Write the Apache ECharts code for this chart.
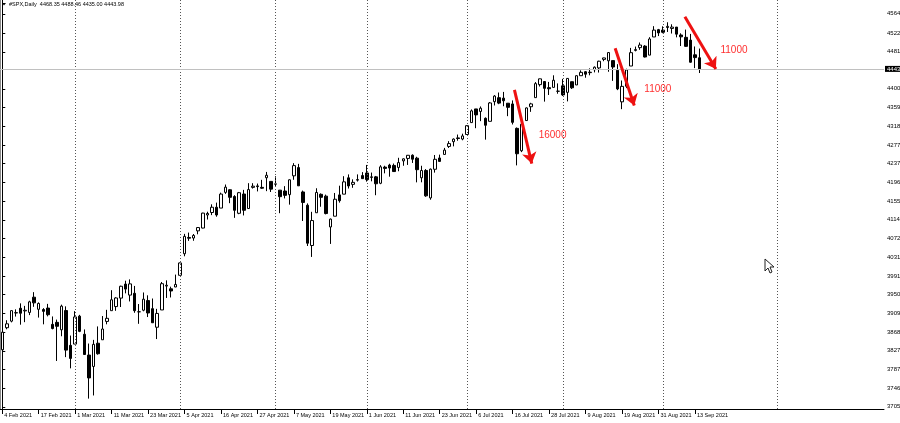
<!DOCTYPE html>
<html><head><meta charset="utf-8">
<script src="https://cdn.jsdelivr.net/npm/echarts@6/dist/echarts.min.js"></script>
<style>html,body{margin:0;padding:0;background:#fff}#c{width:900px;height:423px}</style>
</head><body><div id="c"></div>
<script>
// ---- data ----
const dates = [
'2021-02-04','2021-02-05','2021-02-08','2021-02-09','2021-02-10','2021-02-11','2021-02-12','2021-02-16','2021-02-17','2021-02-18','2021-02-19','2021-02-22','2021-02-23','2021-02-24','2021-02-25','2021-02-26',
'2021-03-01','2021-03-02','2021-03-03','2021-03-04','2021-03-05','2021-03-08','2021-03-09','2021-03-10','2021-03-11','2021-03-12','2021-03-15','2021-03-16','2021-03-17','2021-03-18','2021-03-19','2021-03-22','2021-03-23','2021-03-24','2021-03-25','2021-03-26','2021-03-29','2021-03-30','2021-03-31',
'2021-04-01','2021-04-05','2021-04-06','2021-04-07','2021-04-08','2021-04-09','2021-04-12','2021-04-13','2021-04-14','2021-04-15','2021-04-16','2021-04-19','2021-04-20','2021-04-21','2021-04-22','2021-04-23','2021-04-26','2021-04-27','2021-04-28','2021-04-29','2021-04-30',
'2021-05-03','2021-05-04','2021-05-05','2021-05-06','2021-05-07','2021-05-10','2021-05-11','2021-05-12','2021-05-13','2021-05-14','2021-05-17','2021-05-18','2021-05-19','2021-05-20','2021-05-21','2021-05-24','2021-05-25','2021-05-26','2021-05-27','2021-05-28',
'2021-06-01','2021-06-02','2021-06-03','2021-06-04','2021-06-07','2021-06-08','2021-06-09','2021-06-10','2021-06-11','2021-06-14','2021-06-15','2021-06-16','2021-06-17','2021-06-18','2021-06-21','2021-06-22','2021-06-23','2021-06-24','2021-06-25','2021-06-28','2021-06-29','2021-06-30',
'2021-07-01','2021-07-02','2021-07-06','2021-07-07','2021-07-08','2021-07-09','2021-07-12','2021-07-13','2021-07-14','2021-07-15','2021-07-16','2021-07-19','2021-07-20','2021-07-21','2021-07-22','2021-07-23','2021-07-26','2021-07-27','2021-07-28','2021-07-29','2021-07-30',
'2021-08-02','2021-08-03','2021-08-04','2021-08-05','2021-08-06','2021-08-09','2021-08-10','2021-08-11','2021-08-12','2021-08-13','2021-08-16','2021-08-17','2021-08-18','2021-08-19','2021-08-20','2021-08-23','2021-08-24','2021-08-25','2021-08-26','2021-08-27','2021-08-30','2021-08-31',
'2021-09-01','2021-09-02','2021-09-03','2021-09-07','2021-09-08','2021-09-09','2021-09-10','2021-09-13','2021-09-14'
];
const openP = [
3830.0,3878.3,3892.6,3910.5,3920.8,3915.0,3911.7,3945.0,3918.5,3918.0,3921.2,3885.6,3890.0,3873.7,3915.8,3839.7,
3842.5,3903.6,3864.0,3818.5,3793.6,3844.4,3851.9,3892.0,3915.5,3924.5,3943.0,3973.6,3949.6,3953.5,3913.1,3916.5,3937.6,3919.9,3879.3,3917.1,3969.3,3963.3,3967.3,
3992.8,4040.0,4075.6,4074.3,4090.0,4096.1,4124.7,4130.1,4141.6,4139.8,4174.1,4179.8,4165.0,4128.4,4170.5,4138.8,4185.0,4188.3,4185.1,4206.1,4198.1,
4192.0,4179.0,4177.1,4169.1,4210.3,4228.3,4175.0,4146.0,4058.0,4129.6,4169.9,4165.9,4098.5,4122.0,4168.6,4170.2,4205.9,4191.6,4201.9,4210.8,
4216.5,4206.8,4208.0,4194.0,4229.3,4233.8,4233.0,4228.6,4242.9,4248.3,4255.3,4248.9,4206.0,4222.0,4162.0,4224.6,4249.3,4257.0,4274.5,4284.9,4293.2,4290.7,
4300.7,4326.6,4356.5,4351.0,4336.0,4329.4,4372.4,4381.1,4380.1,4369.0,4367.4,4314.0,4265.1,4331.1,4361.3,4381.2,4409.6,4416.4,4403.0,4403.6,4395.1,
4406.9,4392.7,4416.0,4408.9,4429.1,4437.8,4435.8,4442.2,4446.1,4464.8,4461.7,4462.1,4440.9,4372.0,4406.0,4450.3,4484.4,4490.5,4493.8,4474.1,4513.8,4529.8,
4528.8,4534.5,4532.4,4535.4,4518.1,4513.0,4506.9,4474.8,4468.35
];
const highP = [
3872.4,3894.6,3915.8,3918.4,3931.5,3926.0,3937.2,3956.0,3933.6,3921.1,3930.4,3902.9,3896.0,3928.7,3925.0,3861.1,
3914.5,3906.4,3874.5,3843.7,3851.7,3881.1,3903.8,3917.4,3960.3,3945.0,3970.1,3981.0,3983.9,3969.6,3930.1,3955.3,3949.1,3942.1,3919.5,3978.2,3981.8,3968.0,3994.4,
4020.6,4083.4,4086.2,4083.1,4098.2,4129.5,4131.8,4148.0,4151.7,4173.5,4191.3,4180.8,4168.0,4175.0,4179.6,4194.2,4194.2,4193.4,4201.5,4218.8,4198.1,
4209.4,4179.0,4187.7,4202.7,4238.0,4236.4,4178.0,4150.0,4131.6,4183.1,4171.9,4169.2,4116.9,4172.8,4188.7,4209.5,4213.4,4202.6,4213.4,4218.4,
4234.1,4217.4,4210.0,4233.5,4232.3,4236.7,4237.1,4249.7,4248.4,4255.6,4257.2,4251.9,4232.3,4225.0,4226.2,4255.8,4256.6,4271.3,4286.1,4292.1,4300.5,4302.4,
4320.7,4355.4,4356.5,4361.9,4338.0,4371.6,4386.7,4392.4,4393.7,4369.0,4375.1,4316.0,4336.8,4359.7,4369.9,4415.2,4422.7,4416.4,4415.5,4430.0,4412.3,
4422.2,4423.8,4416.2,4429.8,4440.8,4439.4,4445.2,4449.4,4461.8,4468.4,4480.3,4462.1,4454.3,4418.6,4444.4,4489.9,4492.8,4501.7,4495.9,4513.3,4537.4,4531.4,
4537.1,4545.9,4541.5,4535.4,4521.8,4529.9,4520.5,4493.0,4488.46
];
const lowP = [
3826.0,3874.9,3890.0,3902.6,3884.9,3890.4,3905.8,3923.9,3900.4,3885.7,3903.1,3874.7,3805.6,3859.6,3814.0,3789.5,
3842.5,3868.6,3818.9,3723.3,3730.2,3819.3,3851.9,3885.7,3915.5,3915.2,3923.5,3953.4,3935.7,3910.9,3886.8,3914.2,3901.6,3889.1,3853.5,3917.1,3943.3,3944.4,3967.0,
3992.8,4034.4,4068.1,4068.3,4082.5,4095.5,4114.8,4124.4,4120.9,4139.8,4170.8,4150.5,4118.4,4126.4,4123.7,4138.8,4182.4,4176.2,4181.8,4176.8,4174.9,
4188.0,4128.6,4160.9,4147.3,4201.6,4188.1,4111.5,4056.9,4033.0,4129.6,4142.7,4126.0,4061.4,4122.0,4151.7,4170.2,4182.5,4184.1,4197.8,4203.6,
4197.6,4198.3,4167.9,4192.0,4215.7,4208.4,4218.7,4220.3,4232.3,4234.1,4238.4,4196.0,4196.1,4164.4,4158.0,4217.3,4241.4,4257.0,4271.2,4274.7,4287.0,4288.0,
4300.7,4326.6,4314.4,4329.8,4289.4,4329.4,4364.0,4366.9,4362.4,4340.7,4322.5,4233.1,4262.1,4331.1,4350.1,4381.2,4405.5,4372.5,4387.0,4403.6,4389.7,
4384.8,4373.0,4400.2,4408.9,4429.1,4424.7,4430.0,4436.4,4436.0,4460.8,4437.7,4417.8,4397.6,4356.0,4402.0,4450.3,4482.3,4485.7,4469.0,4474.1,4513.8,4515.8,
4522.0,4524.7,4521.3,4513.0,4494.0,4492.1,4457.7,4445.7,4435.00
];
const closeP = [
3868.5,3886.8,3915.6,3911.2,3909.9,3916.4,3934.8,3932.6,3931.3,3914.0,3906.7,3876.5,3881.4,3925.4,3829.3,3811.2,
3901.8,3870.3,3819.7,3768.5,3841.9,3821.4,3875.4,3898.8,3939.3,3943.3,3968.9,3962.7,3974.1,3915.5,3913.1,3940.6,3910.5,3889.1,3909.5,3974.5,3971.1,3958.6,3972.9,
4019.9,4077.9,4073.9,4080.0,4097.2,4128.8,4128.0,4141.6,4124.7,4170.4,4185.5,4163.3,4134.9,4173.4,4135.0,4180.2,4187.6,4186.7,4183.2,4211.5,4181.2,
4192.7,4164.7,4167.6,4201.6,4232.6,4188.4,4152.1,4063.0,4112.5,4173.9,4163.3,4127.8,4115.7,4159.1,4155.9,4197.1,4188.1,4196.0,4200.9,4204.1,
4202.0,4208.1,4192.9,4229.9,4226.5,4227.3,4219.6,4239.2,4247.4,4255.2,4246.6,4223.7,4221.9,4166.5,4224.8,4246.4,4241.8,4266.5,4280.7,4290.6,4291.8,4297.5,
4319.9,4352.3,4343.5,4358.1,4320.8,4369.6,4384.6,4369.2,4374.3,4360.0,4327.2,4258.5,4323.1,4358.7,4367.5,4411.8,4422.3,4401.5,4400.6,4419.2,4395.3,
4387.2,4423.2,4402.7,4429.1,4436.5,4432.4,4436.8,4447.7,4460.8,4468.0,4479.7,4448.1,4400.3,4405.8,4441.7,4479.5,4486.2,4496.2,4470.0,4509.4,4528.8,4522.7,
4524.1,4537.0,4535.4,4520.0,4514.1,4493.3,4458.6,4468.7,4443.98
];
const xTickLabels = ['4 Feb 2021','17 Feb 2021','1 Mar 2021','11 Mar 2021','23 Mar 2021','5 Apr 2021','16 Apr 2021','27 Apr 2021','7 May 2021','19 May 2021','1 Jun 2021','11 Jun 2021','23 Jun 2021','6 Jul 2021','16 Jul 2021','28 Jul 2021','9 Aug 2021','19 Aug 2021','31 Aug 2021','13 Sep 2021'];
const yTickValues = [3705.4,3746.3,3787.2,3827.8,3868.7,3909.6,3950.5,3991.4,4031.9,4072.8,4114.2,4155.1,4196.0,4237.0,4277.8,4318.7,4359.6,4400.5,4481.4,4522.3,4564.4];
const separatorDates = ['2021-03-01','2021-04-01','2021-05-03','2021-06-01','2021-07-01','2021-08-02','2021-09-01','2021-10-01'];
// annotations: [barIndex, price]
const arrowLines = [
  [[112.4, 4398], [116.2, 4237]],
  [[134.5, 4489], [138.7, 4364]],
  [[149.8, 4558], [156.6, 4444]]
];
const annotationTexts = [[117.6, 4299.5, '16000'], [140.8, 4400, '11000'], [157.5, 4485, '11000']];
const symbolName = '#SPX,Daily';
const futureDays = 40;

// ---- build ----
const cats = dates.slice();
let dt = new Date(dates[dates.length - 1] + 'T00:00:00Z');
for (let k = 0; k < futureDays; k++) { dt = new Date(dt.getTime() + 86400000); cats.push(dt.toISOString().slice(0, 10)); }
const candles = dates.map((d, i) => [openP[i], closeP[i], lowP[i], highP[i]]);
const last = dates.length - 1;
const lastClose = closeP[last];
const FONT = '"Liberation Sans", Arial, sans-serif';
const FS = 5.5;
const FSY = 6;
const showIdx = (i) => i % 8 === 0 && i < dates.length;

const chart = echarts.init(document.getElementById('c'), null, { renderer: 'canvas' });
chart.setOption({
  animation: false,
  backgroundColor: '#fff',
  textStyle: { fontFamily: FONT },
  grid: { left: 0, right: 16, top: 0, bottom: 14, containLabel: false, outerBoundsMode: 'none' },
  xAxis: [{
    type: 'category', data: cats, boundaryGap: true,
    axisLine: { lineStyle: { color: '#000', width: 1 } },
    axisTick: { show: true, alignWithLabel: true, interval: showIdx, length: 5, lineStyle: { color: '#000' } },
    axisLabel: { interval: showIdx, formatter: (v, i) => xTickLabels[i / 8] || '', align: 'left', margin: 3,
      fontSize: FS, color: '#000', fontFamily: FONT, padding: [0, 0, 0, 2], hideOverlap: false },
    splitLine: { show: false }
  }, {
    type: 'value', min: -0.5, max: cats.length - 0.5, show: false
  }],
  yAxis: [{
    type: 'value', position: 'right', min: 3700.6, max: 4594.6,
    axisLine: { show: true, lineStyle: { color: '#000' } },
    axisTick: { show: true, length: 3, customValues: yTickValues, lineStyle: { color: '#000' } },
    axisLabel: { customValues: yTickValues, formatter: (v) => v.toFixed(2), margin: 3, fontSize: FSY, color: '#000', fontFamily: FONT },
    splitLine: { show: false }
  }, {
    type: 'value', position: 'left', min: 3700.6, max: 4594.6,
    axisLine: { show: true, lineStyle: { color: '#888' } },
    axisTick: { show: false }, axisLabel: { show: false }, splitLine: { show: false }
  }],
  series: [{
    type: 'candlestick', xAxisIndex: 0, yAxisIndex: 0, data: candles, barWidth: 3,
    itemStyle: { color: '#ffffff', color0: '#000000', borderColor: '#000000', borderColor0: '#000000', borderWidth: 1 },
    markLine: {
      silent: true, symbol: 'none', animation: false,
      data: separatorDates.map(d => ({ xAxis: d, lineStyle: { color: '#555', type: [1, 2], width: 1 }, label: { show: false } }))
        .concat([{ yAxis: lastClose, lineStyle: { color: '#c0c0c0', type: 'solid', width: 1 },
          label: { show: true, position: 'end', distance: 1, formatter: lastClose.toFixed(2), backgroundColor: '#000', color: '#fff',
            fontSize: FSY, fontFamily: FONT, lineHeight: 6, padding: [0, 2, 0, 2] } }])
    },
    z: 3
  }, {
    type: 'lines', coordinateSystem: 'cartesian2d', xAxisIndex: 1, yAxisIndex: 0, silent: true,
    symbol: ['none', 'arrow'], symbolSize: 11,
    lineStyle: { color: '#ee1111', width: 3, opacity: 1 },
    data: arrowLines.map(a => ({ coords: a })), z: 10
  }, {
    type: 'scatter', xAxisIndex: 1, yAxisIndex: 0, silent: true, symbolSize: 1,
    itemStyle: { color: 'rgba(0,0,0,0)' },
    dimensions: ['x', 'y', { name: 'txt', type: 'ordinal' }],
    label: { show: true, position: 'right', distance: 0, formatter: (p) => String(annotationTexts[p.dataIndex][2]), color: '#ff3030', opacity: 1,
      fontSize: 10, fontFamily: '"Liberation Sans", Arial, sans-serif' },
    labelLayout: { hideOverlap: false },
    data: annotationTexts, z: 11
  }],
  graphic: [
    { type: 'polygon', shape: { points: [[2, 3], [6, 3], [4, 5.5]] }, style: { fill: '#000' } },
    { type: 'text', left: 9, top: 1, style: { text: symbolName + '  ' + openP[last].toFixed(2) + ' ' + highP[last].toFixed(2) + ' ' + lowP[last].toFixed(2) + ' ' + closeP[last].toFixed(2), fill: '#000', font: FS + 'px ' + FONT } },
    { type: 'polygon', shape: { points: [[765, 259], [765, 271], [768, 268], [770, 273], [772, 272], [770, 267], [774, 267]] }, style: { fill: '#fff', stroke: '#222', lineWidth: 1 } }
  ]
});
</script>
</body></html>
